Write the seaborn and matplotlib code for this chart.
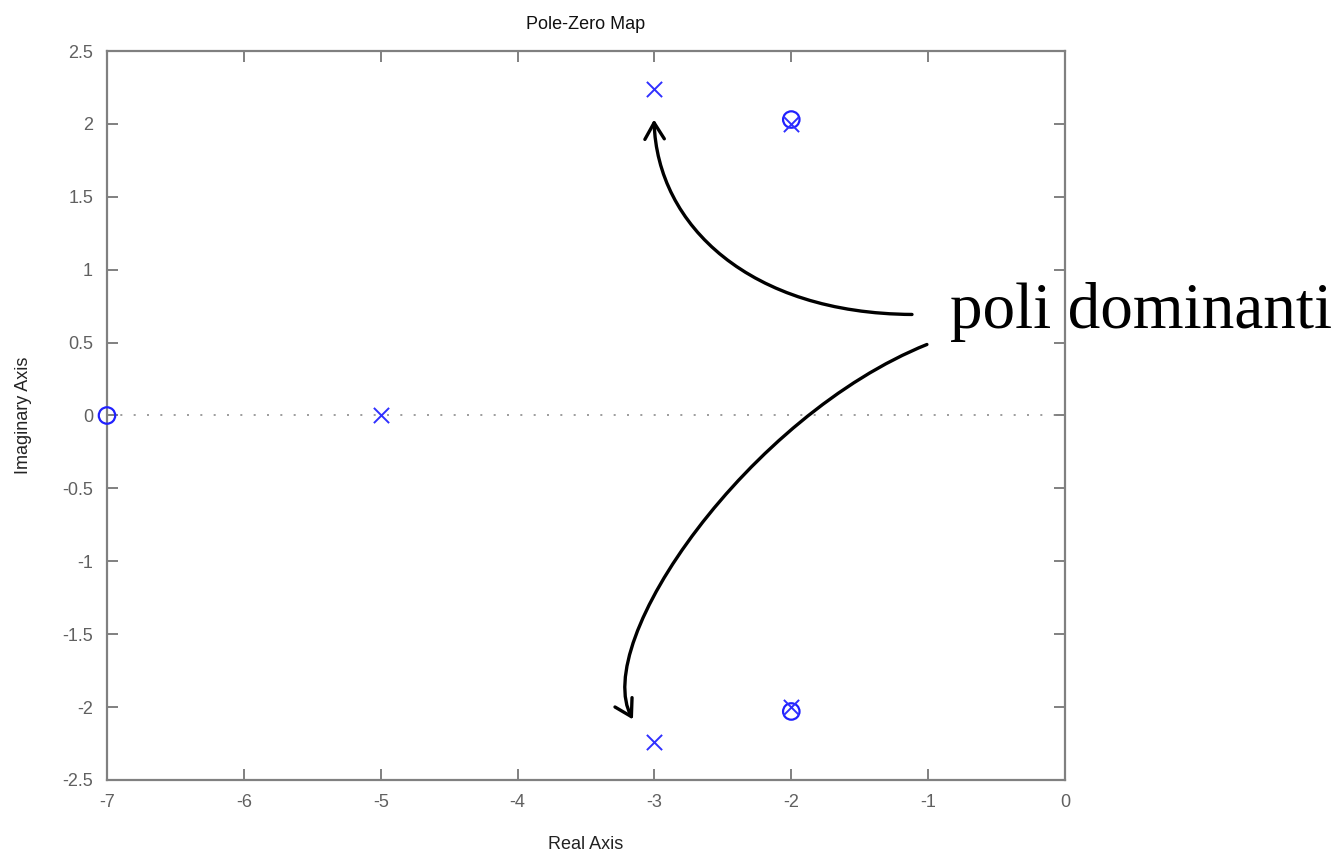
import numpy as np
import pandas as pd
import matplotlib
matplotlib.use("Agg")
import matplotlib.pyplot as plt
from matplotlib.path import Path
from matplotlib.patches import FancyArrowPatch
import seaborn as sns

# ---- data ----
pole_re = [-3.0, -3.0, -5.0, -2.0, -2.0]
pole_im = [2.236, -2.236, 0.0, 2.0, -2.0]
zero_re = [-7.0, -2.0, -2.0]
zero_im = [0.0, 2.03, -2.03]
xticks = [-7, -6, -5, -4, -3, -2, -1, 0]
yticks = [-2.5, -2, -1.5, -1, -0.5, 0, 0.5, 1, 1.5, 2, 2.5]
title = "Pole-Zero Map"
xlabel = "Real Axis"
ylabel = "Imaginary Axis"
annot_text = "poli dominanti"
# annotation curves (data coords, cubic Bezier control points)
arrow1 = [(-1.118, 0.693), (-2.30, 0.70), (-2.98, 1.30), (-3.003, 2.03)]
arrow2 = [(-1.009, 0.487), (-2.30, 0.00), (-3.47, -1.55), (-3.157, -2.085)]

sns.set_theme(style="white")
plt.rcParams['font.family'] = ['Liberation Sans', 'DejaVu Sans']

fig = plt.figure(figsize=(13.44, 8.55), dpi=100)
ax = fig.add_axes([107/1344, 1 - 780/855, (1065-107)/1344, (780-51)/855])

poles = pd.DataFrame({"re": pole_re, "im": pole_im})
zeros = pd.DataFrame({"re": zero_re, "im": zero_im})

ax.axhline(0, color="#8c8c8c", lw=1.2, linestyle=(0, (1.2, 6.8)), zorder=1)

sns.scatterplot(data=zeros, x="re", y="im", ax=ax, marker="o", s=140,
                facecolors="none", edgecolor="#2020ff", linewidth=1.6, zorder=3, clip_on=False)
sns.scatterplot(data=poles, x="re", y="im", ax=ax, marker="x", s=120,
                color="#3030ff", linewidth=1.4, zorder=4, clip_on=False)

ax.set_xlim(-7, 0)
ax.set_ylim(-2.5, 2.5)
ax.set_xticks(xticks)
ax.set_xticklabels([f"{t:g}" for t in xticks])
ax.set_yticks(yticks)
ax.set_yticklabels([f"{t:g}" for t in yticks])

for s in ax.spines.values():
    s.set_color("#808080")
    s.set_linewidth(1.6)
    s.set_visible(True)
ax.tick_params(axis="both", which="both", direction="in", length=8, width=1.4,
               color="#808080", labelcolor="#606060", labelsize=13,
               top=True, right=True, bottom=True, left=True)
ax.tick_params(axis="x", pad=10)
ax.tick_params(axis="y", pad=10)

ax.set_title(title, fontsize=13, color="#111111", pad=16)
ax.set_xlabel(xlabel, fontsize=13, color="#222222", labelpad=18)
ax.set_ylabel(ylabel, fontsize=13, color="#222222", labelpad=22)

codes = [Path.MOVETO, Path.CURVE4, Path.CURVE4, Path.CURVE4]
for pts in (arrow1, arrow2):
    arr = FancyArrowPatch(path=Path(pts, codes), arrowstyle="->,head_length=0.42,head_width=0.25",
                          mutation_scale=28, lw=2.4, color="black",
                          transform=ax.transData, clip_on=False, zorder=5)
    ax.add_patch(arr)

fig.text(950/1344, 1 - 328/855, annot_text, family=["Liberation Serif", "DejaVu Serif"],
         fontsize=47, color="black", ha="left", va="baseline")

fig.savefig("out.png", dpi=100)
